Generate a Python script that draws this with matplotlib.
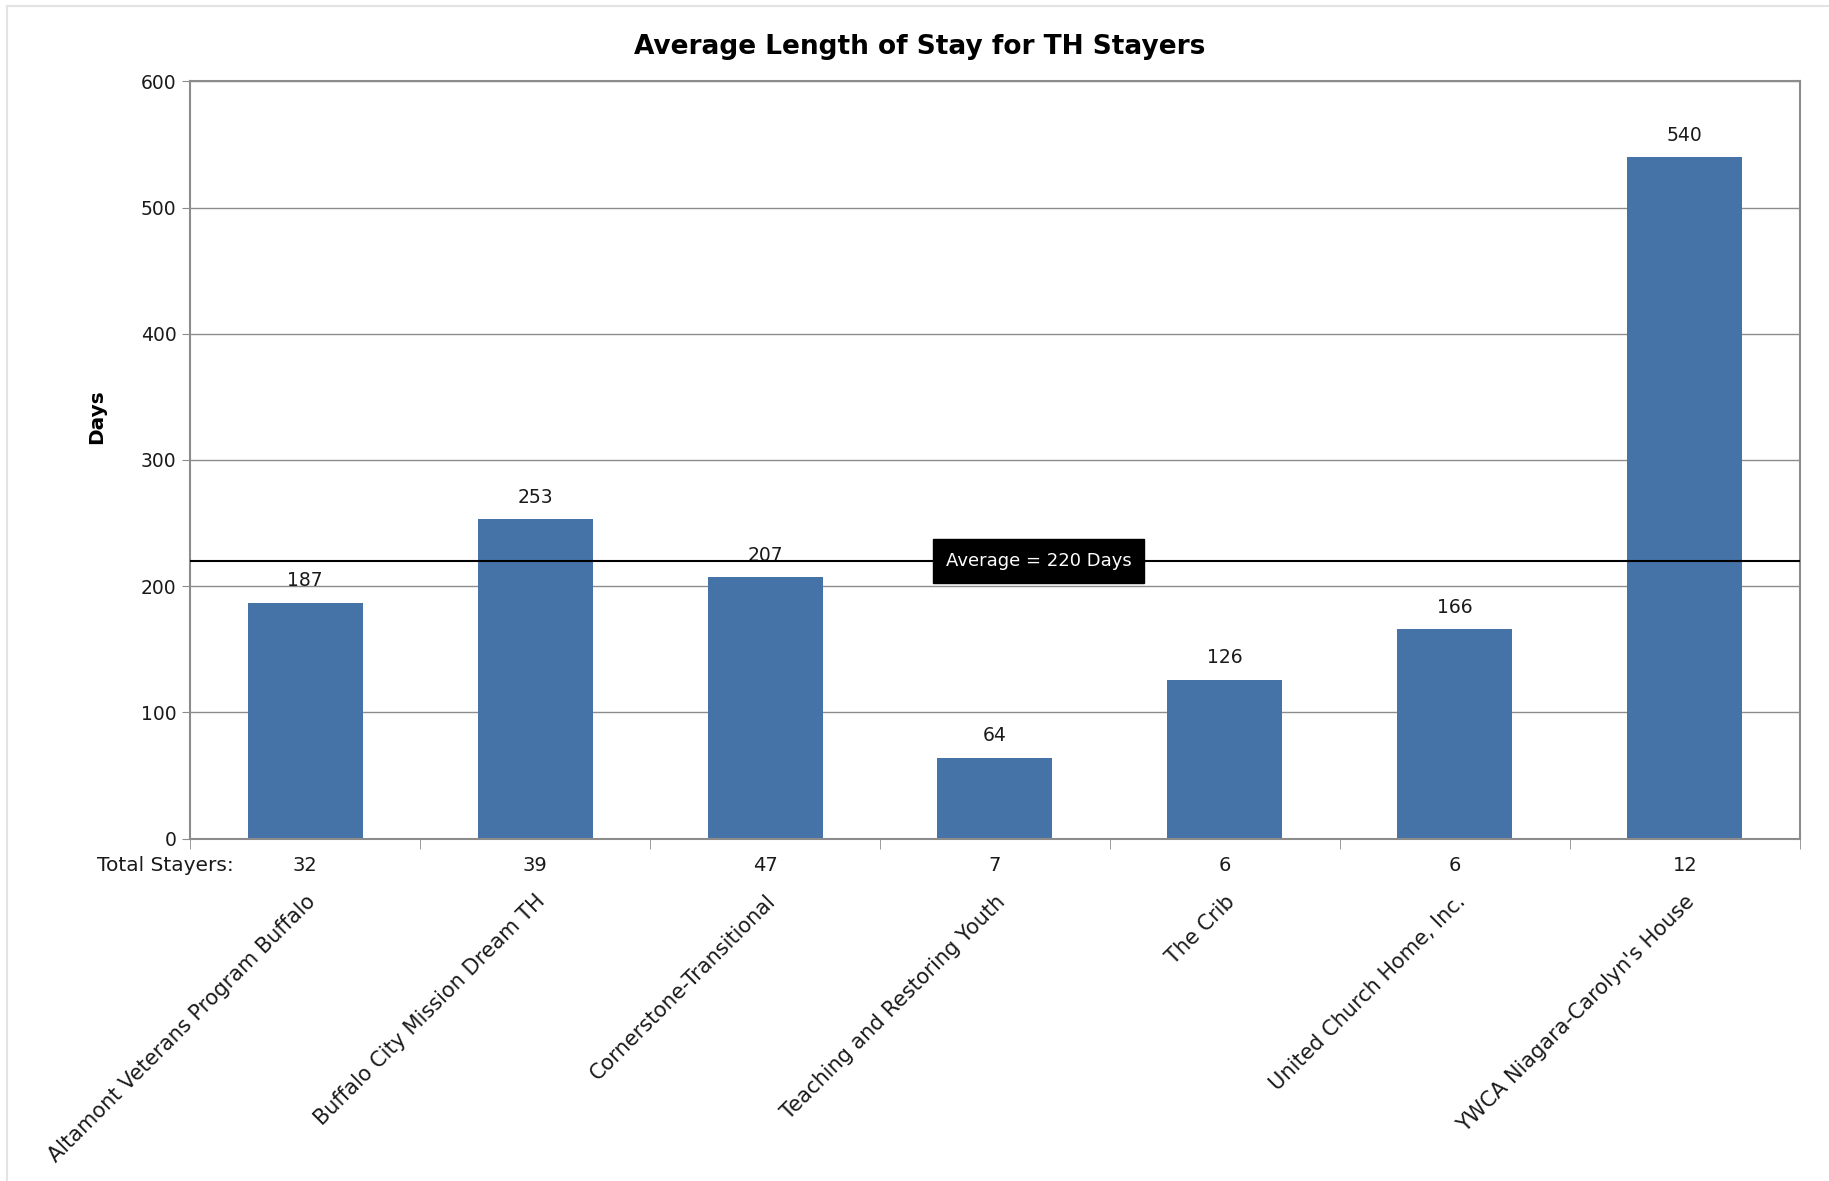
import matplotlib
matplotlib.use("Agg")
import matplotlib.pyplot as plt
from matplotlib.lines import Line2D
from matplotlib import transforms

# data
programs = ["Altamont Veterans Program Buffalo",
            "Buffalo City Mission Dream TH",
            "Cornerstone-Transitional",
            "Teaching and Restoring Youth",
            "The Crib",
            "United Church Home, Inc.",
            "YWCA Niagara-Carolyn's House"]
avg_days = [187, 253, 207, 64, 126, 166, 540]
total_stayers = [32, 39, 47, 7, 6, 6, 12]
overall_avg = 220

bar_color = "#4572A7"
grid_color = "#8c8c8c"

fig = plt.figure(figsize=(18.29, 11.81), dpi=100)
ax = fig.add_axes([0.104, 0.290, 0.880, 0.641])

x = list(range(len(programs)))
bars = ax.bar(x, avg_days, width=0.5, color=bar_color, zorder=2)

for xi, v in zip(x, avg_days):
    ax.annotate(str(v), (xi, v), xytext=(0, 9), textcoords="offset points",
                ha="center", va="bottom", fontsize=13.5, color="#1a1a1a")

# average line with black label box
ax.axhline(overall_avg, color="black", lw=1.5, zorder=3)
ax.text(3.19, overall_avg, "Average = 220 Days", ha="center", va="center",
        fontsize=13, color="white", zorder=4,
        bbox=dict(boxstyle="square,pad=0.7", fc="black", ec="black"))

ax.set_xlim(-0.5, len(programs) - 0.5)
ax.set_ylim(0, 600)
ax.set_yticks(range(0, 601, 100))
ax.yaxis.grid(True, color=grid_color, lw=1.0, zorder=0)
ax.tick_params(axis="y", labelsize=13.5, length=6, color=grid_color,
               labelcolor="#1a1a1a", pad=4)

# category labels at bar centres, tick marks between categories
ax.set_xticks(x)
ax.set_xticklabels(programs, rotation=45, ha="right", rotation_mode="anchor",
                   fontsize=15, color="#1a1a1a")
ax.tick_params(axis="x", which="major", length=0, pad=38)
ax.set_xticks([i - 0.5 for i in range(len(programs) + 1)], minor=True)
ax.tick_params(axis="x", which="minor", length=7, color=grid_color)

for s in ax.spines.values():
    s.set_color(grid_color)
    s.set_linewidth(1.5)

# total stayers row under the axis
trans = transforms.blended_transform_factory(ax.transData, ax.transAxes)
for xi, n in zip(x, total_stayers):
    ax.text(xi, -0.035, str(n), transform=trans, ha="center", va="center",
            fontsize=14, color="#1a1a1a")
ax.text(-0.31, -0.035, "Total Stayers:", transform=trans, ha="right",
        va="center", fontsize=14.5, color="#1a1a1a")

ax.set_ylabel("Days", fontsize=14.5, fontweight="bold")
ax.yaxis.set_label_coords(-0.052, 0.557)
fig.suptitle("Average Length of Stay for TH Stayers", fontsize=19,
             fontweight="bold", y=0.960, x=0.503, va="center")

# faint outer frame (left and top edges visible)
fig.add_artist(Line2D([0.004, 0.004], [0, 0.995], transform=fig.transFigure,
                      color="#e3e3e3", lw=1.5))
fig.add_artist(Line2D([0.004, 1.0], [0.995, 0.995], transform=fig.transFigure,
                      color="#e3e3e3", lw=1.5))

plt.savefig("out.png", dpi=100)
